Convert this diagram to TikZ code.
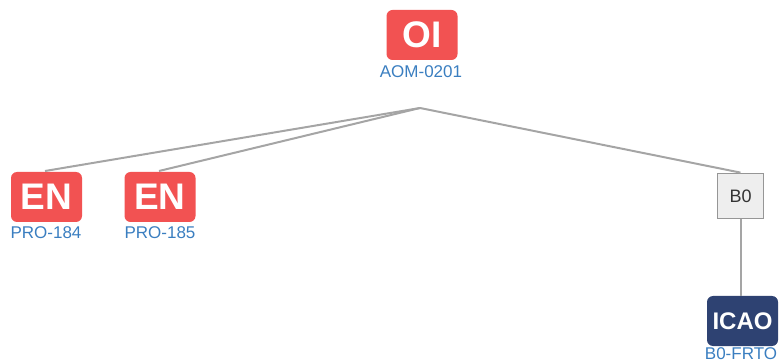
\documentclass[tikz,border=0pt]{standalone}
\usepackage{fontspec}
\setmainfont{Liberation Sans}
\definecolor{tagred}{RGB}{242,82,82}
\definecolor{tagnavy}{RGB}{46,66,114}
\definecolor{lblblue}{RGB}{58,126,192}
\definecolor{linegray}{RGB}{165,165,165}
\definecolor{boxfill}{RGB}{238,238,238}
\definecolor{boxline}{RGB}{150,150,150}
\tikzset{
  tag/.style={rounded corners=6pt, inner sep=0pt, text=white, font=\bfseries},
  redtag/.style={tag, fill=tagred, minimum width=71pt, minimum height=50pt, font=\fontsize{37}{37}\selectfont\bfseries},
  navytag/.style={tag, fill=tagnavy, minimum width=71pt, minimum height=50pt, font=\fontsize{24}{24}\selectfont\bfseries},
  grpbox/.style={draw=boxline, line width=1.8pt, fill=boxfill, minimum width=46pt, minimum height=45pt, inner sep=0pt, text=black!80, font=\fontsize{18}{18}\selectfont},
  lbl/.style={text=lblblue, inner sep=0pt, font=\fontsize{17}{17}\selectfont},
  conn/.style={draw=linegray, line width=2pt}
}
\begin{document}
\begin{tikzpicture}[x=1pt,y=-1pt]
\useasboundingbox (0,0) rectangle (779,363);
\node[redtag] (oi) at (422,35) {OI};
\node[lbl] (oilbl) at (421,72) {AOM-0201};
\node[redtag] (en1) at (46.5,197) {EN};
\node[lbl] (en1lbl) at (46,233) {PRO-184};
\node[redtag] (en2) at (160,197) {EN};
\node[lbl] (en2lbl) at (160,233) {PRO-185};
\node[grpbox] (b0) at (740.5,196) {B0};
\node[navytag] (icao) at (742.5,321) {ICAO};
\node[lbl] (icaolbl) at (741,354) {B0-FRTO};
\coordinate (hub) at (420,108);
\coordinate (en1top) at (45,171);
\coordinate (en2top) at (159,171);
\draw[conn] (hub) -- (en1top);
\draw[conn] (hub) -- (en2top);
\draw[conn] (hub) -- (b0.north);
\draw[conn] (b0.south) -- (icao.north -| b0.south);
\end{tikzpicture}
\end{document}
